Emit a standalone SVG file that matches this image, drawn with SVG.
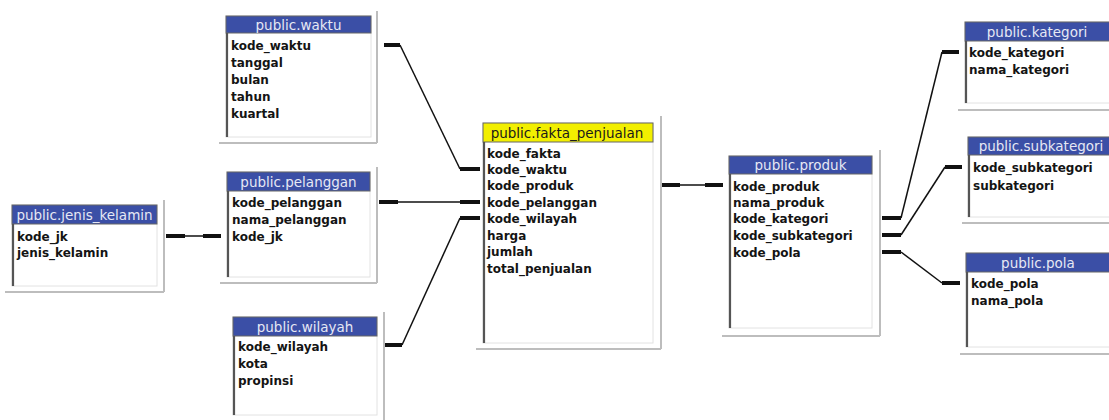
<svg xmlns="http://www.w3.org/2000/svg" width="1109" height="420" viewBox="0 0 1109 420">
<style>
.body{fill:#fff;stroke:#e2e2e2;stroke-width:1}
.hdr{fill:#3b4fa6;stroke:#666;stroke-width:1}
.hdry{fill:#f2ef00;stroke:#666;stroke-width:1}
.lb{stroke:#555;stroke-width:2.2}
.sh{stroke:#bdbdbd;stroke-width:2;fill:none}
.tt{font-family:"DejaVu Sans",sans-serif;font-size:13.5px;fill:#e6e8f4;text-anchor:middle}
.tty{font-family:"DejaVu Sans",sans-serif;font-size:13.5px;fill:#1a1a1a;text-anchor:middle}
.f{font-family:"DejaVu Sans",sans-serif;font-size:12px;font-weight:bold;fill:#141414}
.thin{stroke:#111;stroke-width:1.5;fill:none}
.thick{stroke:#111;stroke-width:4;fill:none}
</style>
<rect width="1109" height="420" fill="#fff"/>

<g id="waktu">
<rect class="body" x="226" y="16" width="145" height="121"/>
<path class="sh" d="M377 11V143M219 143H377"/>
<rect class="hdr" x="226" y="16" width="145" height="17"/>
<line class="lb" x1="227" y1="33" x2="227" y2="137"/>
<text class="tt" x="298.5" y="29.5">public.waktu</text>
<text class="f" x="231" y="49.5">kode_waktu</text>
<text class="f" x="231" y="66.5">tanggal</text>
<text class="f" x="231" y="83.5">bulan</text>
<text class="f" x="231" y="100.5">tahun</text>
<text class="f" x="231" y="117.5">kuartal</text>
</g>

<g id="jenis_kelamin">
<rect class="body" x="12" y="205" width="145" height="81"/>
<path class="sh" d="M164 200V292M5 292H164"/>
<rect class="hdr" x="12" y="205" width="145" height="19"/>
<line class="lb" x1="13" y1="224" x2="13" y2="286"/>
<text class="tt" x="84.5" y="219.5">public.jenis_kelamin</text>
<text class="f" x="17" y="240.5">kode_jk</text>
<text class="f" x="17" y="256.5">jenis_kelamin</text>
</g>

<g id="pelanggan">
<rect class="body" x="227" y="172" width="143" height="105"/>
<path class="sh" d="M377 167V283M220 283H377"/>
<rect class="hdr" x="227" y="172" width="143" height="19"/>
<line class="lb" x1="228" y1="191" x2="228" y2="277"/>
<text class="tt" x="298.5" y="186.5">public.pelanggan</text>
<text class="f" x="232" y="206.5">kode_pelanggan</text>
<text class="f" x="232" y="223.5">nama_pelanggan</text>
<text class="f" x="232" y="240.5">kode_jk</text>
</g>

<g id="wilayah">
<rect class="body" x="233" y="317" width="144" height="98"/>
<path class="sh" d="M384 312V421M226 421H384"/>
<rect class="hdr" x="233" y="317" width="144" height="19"/>
<line class="lb" x1="234" y1="336" x2="234" y2="415"/>
<text class="tt" x="305" y="331.5">public.wilayah</text>
<text class="f" x="238" y="350.5">kode_wilayah</text>
<text class="f" x="238" y="367.5">kota</text>
<text class="f" x="238" y="384.5">propinsi</text>
</g>

<g id="fakta_penjualan">
<rect class="body" x="483" y="123" width="170" height="220"/>
<path class="sh" d="M661 116V349M476 349H661"/>
<rect class="hdry" x="483" y="123" width="170" height="19"/>
<line class="lb" x1="484" y1="142" x2="484" y2="343"/>
<text class="tty" x="567" y="137.5">public.fakta_penjualan</text>
<text class="f" x="487" y="157.5">kode_fakta</text>
<text class="f" x="487" y="173.5">kode_waktu</text>
<text class="f" x="487" y="189.5">kode_produk</text>
<text class="f" x="487" y="206.5">kode_pelanggan</text>
<text class="f" x="487" y="222.5">kode_wilayah</text>
<text class="f" x="487" y="239.5">harga</text>
<text class="f" x="487" y="255.5">jumlah</text>
<text class="f" x="487" y="272.5">total_penjualan</text>
</g>

<g id="produk">
<rect class="body" x="729" y="156" width="143" height="172"/>
<path class="sh" d="M880 150V336M722 336H880"/>
<rect class="hdr" x="729" y="156" width="143" height="18"/>
<line class="lb" x1="730" y1="174" x2="730" y2="328"/>
<text class="tt" x="800.5" y="170">public.produk</text>
<text class="f" x="733" y="190.5">kode_produk</text>
<text class="f" x="733" y="206.5">nama_produk</text>
<text class="f" x="733" y="222.5">kode_kategori</text>
<text class="f" x="733" y="239.5">kode_subkategori</text>
<text class="f" x="733" y="256.5">kode_pola</text>
</g>

<g id="kategori">
<rect class="body" x="965" y="22" width="146" height="81"/>
<path class="sh" d="M958 110H1111"/>
<rect class="hdr" x="965" y="22" width="146" height="19"/>
<line class="lb" x1="966" y1="41" x2="966" y2="103"/>
<text class="tt" x="1037" y="36.5">public.kategori</text>
<text class="f" x="969" y="56.5">kode_kategori</text>
<text class="f" x="969" y="73.5">nama_kategori</text>
</g>

<g id="subkategori">
<rect class="body" x="968" y="137" width="148" height="80"/>
<path class="sh" d="M962 223H1111"/>
<rect class="hdr" x="968" y="137" width="148" height="18"/>
<line class="lb" x1="969" y1="155" x2="969" y2="217"/>
<text class="tt" x="1041" y="151">public.subkategori</text>
<text class="f" x="973" y="171.5">kode_subkategori</text>
<text class="f" x="973" y="189.5">subkategori</text>
</g>

<g id="pola">
<rect class="body" x="966" y="253" width="146" height="94"/>
<path class="sh" d="M960 354H1111"/>
<rect class="hdr" x="966" y="253" width="146" height="19"/>
<line class="lb" x1="967" y1="272" x2="967" y2="347"/>
<text class="tt" x="1038" y="267.5">public.pola</text>
<text class="f" x="971" y="287.5">kode_pola</text>
<text class="f" x="971" y="304.5">nama_pola</text>
</g>

<g id="connectors">
<path class="thin" d="M400 45L460 169"/>
<path class="thick" d="M384 45H400M460 169H480"/>
<path class="thin" d="M398 202H460"/>
<path class="thick" d="M379 202H398M460 202H480"/>
<path class="thin" d="M402 345L460 218"/>
<path class="thick" d="M385 345H402M460 218H480"/>
<path class="thin" d="M185 236H203"/>
<path class="thick" d="M166 236H185M203 236H221"/>
<path class="thin" d="M680 185H705"/>
<path class="thick" d="M662 185H680M705 185H723"/>
<path class="thin" d="M901 218L942 52"/>
<path class="thick" d="M882 218H901M942 52H959"/>
<path class="thin" d="M901 235L945 167"/>
<path class="thick" d="M882 235H901M945 167H962"/>
<path class="thin" d="M901 252L942 283"/>
<path class="thick" d="M882 252H901M942 283H960"/>
</g>
</svg>
